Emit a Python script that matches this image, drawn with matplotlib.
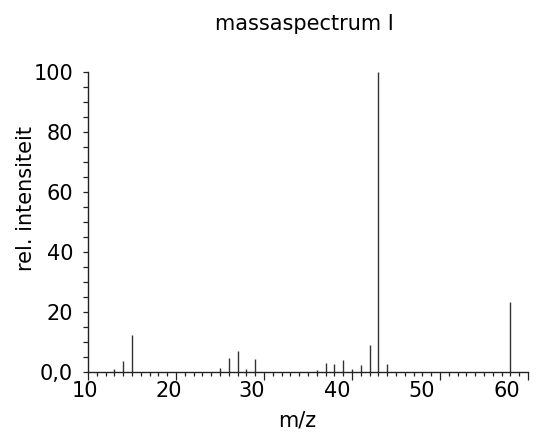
import matplotlib
matplotlib.use("Agg")
import matplotlib.pyplot as plt
from matplotlib.ticker import MultipleLocator

# data
mz = [13, 14, 15, 25, 26, 27, 28, 29, 36, 37, 38, 39, 40, 41, 42, 43, 44, 58]
intensity = [1.0, 3.8, 12.4, 1.3, 4.9, 7.2, 1.0, 4.3, 0.7, 3.0, 2.9, 4.1, 1.0, 2.5, 9.0, 100.0, 2.7, 23.4]
xtick_values = [10, 20, 30, 40, 50, 60]
xtick_labels = ["10", "20", "30", "40", "50", "60"]
ytick_values = [0, 20, 40, 60, 80, 100]
ytick_labels = ["0,0", "20", "40", "60", "80", "100"]
title = "massaspectrum I"
xlabel = "m/z"
ylabel = "rel. intensiteit"

# layout (label placement as in the reference)
xlabel_anchor = [9.6, 19.2, 28.6, 38.3, 47.9, 57.6]

plt.rcParams['font.family'] = ['DejaVu Sans']
FS = 15

fig = plt.figure(figsize=(5.46, 4.32), dpi=100)
ax = fig.add_axes([88 / 546, 1 - 372.3 / 432, 440 / 546, 300.3 / 432])

ax.vlines(mz, 0, intensity, colors="#333333", linewidth=1.0)

ax.set_xlim(10, 60)
ax.set_ylim(0, 100)
for s in ["top", "right"]:
    ax.spines[s].set_visible(False)
for s in ["left", "bottom"]:
    ax.spines[s].set_linewidth(1.0)
    ax.spines[s].set_color("#222222")

ax.set_xticks(xtick_values)
ax.set_xticklabels([])
ax.xaxis.set_minor_locator(MultipleLocator(1))
ax.tick_params(axis="x", which="major", direction="out", length=6, width=0.9, color="#222222")
ax.tick_params(axis="x", which="minor", direction="out", length=3, width=0.9, color="#222222")

ax.set_yticks(ytick_values)
ax.set_yticklabels(ytick_labels, fontsize=FS)
ax.yaxis.set_minor_locator(MultipleLocator(5))
ax.tick_params(axis="y", which="both", direction="out", length=3.8, width=0.9, color="#222222", pad=7)

for pos, lab in zip(xlabel_anchor, xtick_labels):
    ax.annotate(lab, xy=(pos, 0), xycoords=("data", "axes fraction"),
                xytext=(0, -19 * 0.72), textcoords="offset points",
                ha="center", va="center", fontsize=FS)

ax.set_xlabel(xlabel, fontsize=FS, va="center")
ax.xaxis.set_label_coords(0.475, -0.162)
ax.set_ylabel(ylabel, fontsize=FS, va="center")
ax.yaxis.set_label_coords(-0.141, 0.580)

fig.text(304 / 546, 1 - 24 / 432, title, ha="center", va="center", fontsize=FS)

fig.savefig("out.png", dpi=100)
